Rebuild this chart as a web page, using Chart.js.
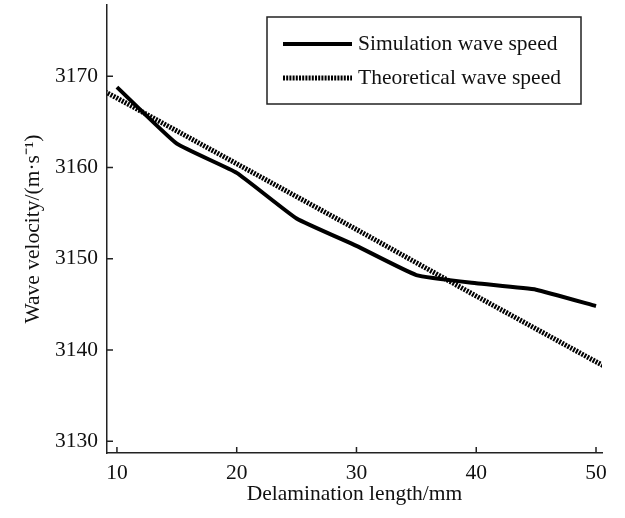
<!DOCTYPE html>
<html>
<head>
<meta charset="utf-8">
<script src="https://cdn.jsdelivr.net/npm/chart.js@4.4.0/dist/chart.umd.min.js"></script>
<style>
  html, body { margin: 0; padding: 0; background: #fff; }
  #wrap { width: 625px; height: 518px; }
</style>
</head>
<body>
<div id="wrap"><canvas id="c" width="625" height="518"></canvas></div>
<script>
// ---- data ----
const xTicks = [10, 20, 30, 40, 50];
const yTicks = [3130, 3140, 3150, 3160, 3170];
const simX = [10, 15, 20, 25, 30, 35, 40, 45, 50];
const simY = [3168.8, 3162.6, 3159.4, 3154.4, 3151.4, 3148.2, 3147.3, 3146.6, 3144.8];
const theoX = [9, 10, 20, 30, 40, 50, 51];
const theoY = [3168.3, 3167.6, 3160.4, 3153.2, 3145.9, 3138.7, 3138.0];
const seriesNames = ['Simulation wave speed', 'Theoretical wave speed'];
const xTitle = 'Delamination length/mm';
const yTitle = 'Wave velocity/(m\u00B7s\u207B\u00B9)';

const FONT = '"Liberation Serif", "Times New Roman", serif';
const FSIZE = 21.5;

const inwardTicks = {
  id: 'inwardTicks',
  afterDatasetsDraw(chart) {
    const ctx = chart.ctx;
    const xs = chart.scales.x, ys = chart.scales.y;
    const ca = chart.chartArea;
    ctx.save();
    ctx.strokeStyle = '#222';
    ctx.lineWidth = 1.5;
    ctx.beginPath();
    xTicks.forEach(v => {
      const px = xs.getPixelForValue(v);
      ctx.moveTo(px, ca.bottom);
      ctx.lineTo(px, ca.bottom - 6);
    });
    yTicks.forEach(v => {
      const py = ys.getPixelForValue(v);
      ctx.moveTo(ca.left, py);
      ctx.lineTo(ca.left + 6, py);
    });
    ctx.stroke();
    ctx.restore();
  }
};

const boxLegend = {
  id: 'boxLegend',
  afterDraw(chart) {
    const ctx = chart.ctx;
    const ca = chart.chartArea;
    const bx = ca.right - 335, by = ca.top + 12, bw = 314, bh = 87;
    ctx.save();
    ctx.fillStyle = '#fff';
    ctx.fillRect(bx, by, bw, bh);
    ctx.strokeStyle = '#222';
    ctx.lineWidth = 1.5;
    ctx.strokeRect(bx, by, bw, bh);
    const rows = [by + 27, by + 61];
    chart.data.datasets.forEach((ds, i) => {
      const y = rows[i];
      ctx.beginPath();
      ctx.strokeStyle = ds.borderColor;
      ctx.lineWidth = ds.borderWidth;
      ctx.setLineDash(ds.borderDash || []);
      ctx.lineCap = 'butt';
      ctx.moveTo(bx + 16, y);
      ctx.lineTo(bx + 85, y);
      ctx.stroke();
      ctx.setLineDash([]);
      ctx.fillStyle = '#111';
      ctx.font = FSIZE + 'px ' + FONT;
      ctx.textBaseline = 'middle';
      ctx.textAlign = 'left';
      ctx.fillText(ds.label, bx + 91, y);
    });
    ctx.restore();
  }
};

function noPad(s) {
  s.paddingTop = 0; s.paddingBottom = 0; s.paddingLeft = 0; s.paddingRight = 0;
}

new Chart(document.getElementById('c'), {
  type: 'line',
  data: {
    datasets: [
      {
        label: seriesNames[0],
        data: simX.map((x, i) => ({ x, y: simY[i] })),
        borderColor: '#000',
        borderWidth: 4,
        pointRadius: 0,
        tension: 0.12,
        borderCapStyle: 'butt',
        fill: false
      },
      {
        label: seriesNames[1],
        data: theoX.map((x, i) => ({ x, y: theoY[i] })),
        borderColor: '#000',
        borderWidth: 5,
        borderDash: [2, 1.2],
        pointRadius: 0,
        tension: 0,
        fill: false
      }
    ]
  },
  options: {
    responsive: false,
    animation: false,
    devicePixelRatio: 1,
    layout: { padding: { left: 0, top: 5, right: 23, bottom: 0 } },
    plugins: { legend: { display: false }, tooltip: { enabled: false } },
    scales: {
      x: {
        type: 'linear',
        min: 9.17,
        max: 50.5,
        afterFit(s) { s.height = 65; noPad(s); },
        afterBuildTicks(s) { s.ticks = xTicks.map(v => ({ value: v })); },
        grid: { display: false, drawTicks: false },
        border: { display: true, color: '#222', width: 1.5 },
        ticks: { color: '#111', font: { family: FONT, size: FSIZE }, padding: 7, maxRotation: 0, autoSkip: false, callback: v => String(v) },
        title: { display: true, text: xTitle, color: '#111', font: { family: FONT, size: FSIZE }, padding: { top: 0, bottom: 11 } }
      },
      y: {
        type: 'linear',
        min: 3128.7,
        max: 3177.8,
        afterFit(s) { s.width = 107; noPad(s); },
        afterBuildTicks(s) { s.ticks = yTicks.map(v => ({ value: v })); },
        grid: { display: false, drawTicks: false },
        border: { display: true, color: '#222', width: 1.5 },
        ticks: { color: '#111', font: { family: FONT, size: FSIZE }, padding: 9, autoSkip: false, callback: v => String(v) },
        title: { display: true, text: yTitle, color: '#111', font: { family: FONT, size: FSIZE }, padding: { top: 20, bottom: 0 } }
      }
    }
  },
  plugins: [inwardTicks, boxLegend]
});
</script>
</body>
</html>
